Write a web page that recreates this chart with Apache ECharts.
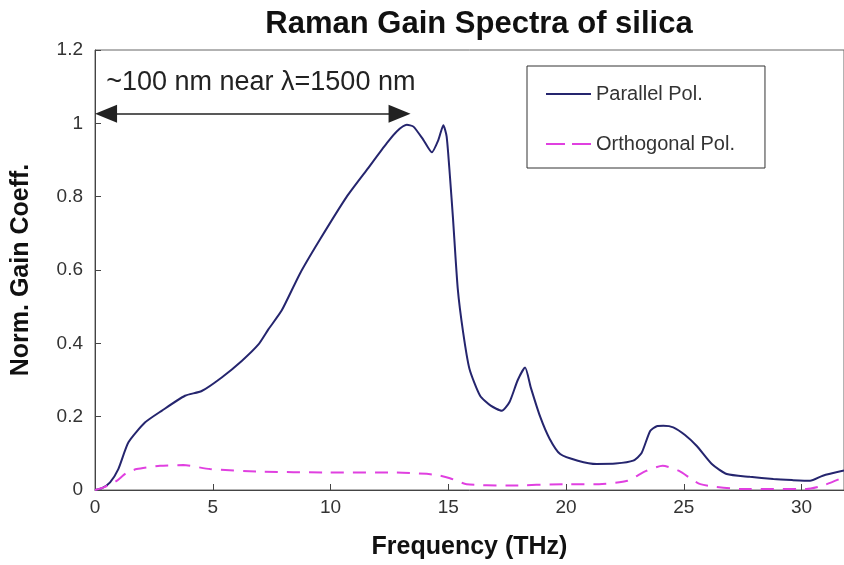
<!DOCTYPE html>
<html>
<head>
<meta charset="utf-8">
<script src="https://cdn.jsdelivr.net/npm/echarts@6/dist/echarts.min.js"></script>
<style>
  html, body { margin: 0; padding: 0; background: #fff; }
  #main { width: 844px; height: 565px; }
</style>
</head>
<body>
<div id="main"></div>
<script>
// parallel polarisation, [THz, normalised gain]
var parallelPol = [
  [0, 0], [0.3, 0.005], [0.64, 0.021], [0.99, 0.057], [1.42, 0.13], [2.12, 0.184],
  [2.83, 0.216], [3.82, 0.257], [4.53, 0.27], [5.38, 0.307], [6.23, 0.352], [6.94, 0.397],
  [7.36, 0.438], [7.93, 0.49], [8.7, 0.59], [9.55, 0.683], [10.69, 0.8],
  [11.54, 0.873], [12.39, 0.946], [12.81, 0.978], [13.24, 0.996], [13.52, 0.991],
  [13.94, 0.955], [14.3, 0.921], [14.58, 0.955], [14.79, 0.995], [14.93, 0.964],
  [15.07, 0.855], [15.2, 0.74], [15.4, 0.55], [15.63, 0.43], [15.9, 0.33], [16.35, 0.257],
  [16.8, 0.23], [17.27, 0.216], [17.6, 0.24], [17.95, 0.3], [18.26, 0.334], [18.5, 0.28],
  [18.9, 0.2], [19.3, 0.14], [19.75, 0.098], [20.5, 0.08], [21.3, 0.071], [22.1, 0.072],
  [22.85, 0.08], [23.2, 0.1], [23.57, 0.161], [23.85, 0.174], [24.13, 0.175], [24.55, 0.171],
  [25.05, 0.15], [25.55, 0.12], [26.2, 0.07], [26.82, 0.0435], [27.8, 0.036], [28.8, 0.03],
  [29.6, 0.027], [30.36, 0.025], [30.9, 0.039], [31.8, 0.053]
];
// orthogonal polarisation
var orthogonalPol = [
  [0, 0], [0.4, 0.008], [0.92, 0.025], [1.3, 0.045], [1.77, 0.057], [2.76, 0.066],
  [3.75, 0.068], [4.88, 0.057], [7.0, 0.05], [9.84, 0.048], [12.67, 0.048], [14.08, 0.044],
  [14.65, 0.039], [15.07, 0.032], [15.78, 0.016], [17.48, 0.012], [20.0, 0.016],
  [21.4, 0.016], [22.6, 0.025], [23.4, 0.052], [24.1, 0.066], [24.8, 0.052], [25.7, 0.016],
  [27.4, 0.003], [30.2, 0.003], [30.9, 0.012], [31.8, 0.035]
];
var seriesNames = ['Parallel Pol.', 'Orthogonal Pol.'];
// bandwidth arrow between 0 and ~13.4 THz at gain ~1.026
// (ends pulled in by half an arrowhead so the tips land on 0 and 13.4)
var arrowStart = [0.47, 1.026];
var arrowEnd = [12.93, 1.026];
var arrowText = '~100 nm near λ=1500 nm';

var font = '"Liberation Sans", Arial, sans-serif';
var chart = echarts.init(document.getElementById('main'));

chart.setOption({
  backgroundColor: '#fff',
  animation: false,
  title: {
    text: 'Raman Gain Spectra of silica',
    left: 474,
    textAlign: 'center',
    top: 4,
    textStyle: { fontFamily: font, fontSize: 31, fontWeight: 'bold', color: '#111' }
  },
  legend: {
    orient: 'vertical',
    left: 527,
    top: 66,
    padding: [18, 30, 14, 18],
    itemGap: 30,
    itemWidth: 45,
    itemHeight: 14,
    itemStyle: { opacity: 0 },
    borderColor: '#333',
    borderWidth: 1,
    data: [
      { name: seriesNames[0] },
      { name: seriesNames[1], lineStyle: { type: [19, 7] } }
    ],
    textStyle: { fontFamily: font, fontSize: 20, color: '#333' }
  },
  grid: {
    left: 95,
    right: 0,
    top: 50,
    bottom: 74,
    show: true,
    borderColor: '#666',
    borderWidth: 1
  },
  xAxis: {
    type: 'value',
    min: 0,
    max: 31.8,
    interval: 5,
    name: 'Frequency (THz)',
    nameLocation: 'middle',
    nameGap: 45,
    nameTextStyle: { fontFamily: font, fontSize: 25, fontWeight: 'bold', color: '#111' },
    axisLine: { lineStyle: { color: '#444', width: 1 } },
    axisTick: { inside: true, length: 6, lineStyle: { color: '#444' } },
    axisLabel: { showMaxLabel: false, fontFamily: font, fontSize: 19, color: '#333', margin: 8 },
    splitLine: { show: false }
  },
  yAxis: {
    type: 'value',
    min: 0,
    max: 1.2,
    interval: 0.2,
    name: 'Norm. Gain Coeff.',
    nameLocation: 'middle',
    nameGap: 61,
    nameTextStyle: { fontFamily: font, fontSize: 25, fontWeight: 'bold', color: '#111' },
    axisLine: { show: true, lineStyle: { color: '#444', width: 1 } },
    axisTick: { show: true, inside: true, length: 6, lineStyle: { color: '#444' } },
    axisLabel: { fontFamily: font, fontSize: 19, color: '#333', margin: 12 },
    splitLine: { show: false }
  },
  series: [
    {
      name: seriesNames[0],
      type: 'line',
      data: parallelPol,
      symbol: 'none',
      smooth: 0.2,
      color: '#25256e',
      lineStyle: { color: '#25256e', width: 2 },
      markLine: {
        silent: true,
        symbol: ['triangle', 'triangle'],
        symbolSize: [18, 22],
        lineStyle: { color: '#222', width: 1.5, type: 'solid' },
        label: {
          show: true,
          position: 'insideMiddleTop',
          distance: 18,
          offset: [8, 0],
          formatter: arrowText,
          fontFamily: font,
          fontSize: 27,
          color: '#222'
        },
        data: [[{ coord: arrowStart }, { coord: arrowEnd }]]
      }
    },
    {
      name: seriesNames[1],
      type: 'line',
      data: orthogonalPol,
      symbol: 'none',
      smooth: 0.2,
      color: '#e040e0',
      lineStyle: { color: '#e040e0', width: 2, type: [13, 9] }
    }
  ]
});
</script>
</body>
</html>
